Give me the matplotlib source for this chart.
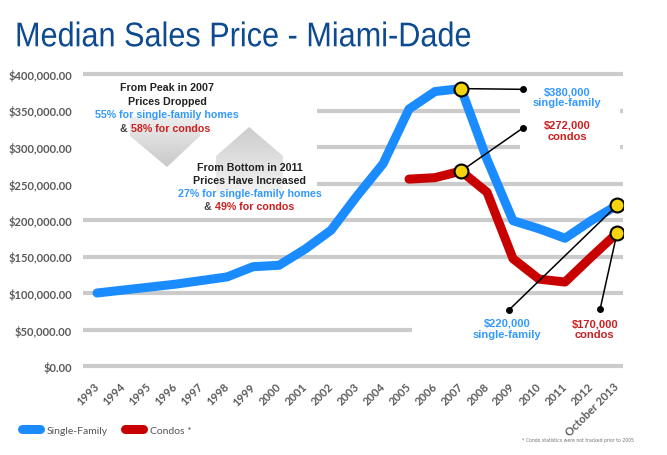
import numpy as np
import matplotlib
matplotlib.use("Agg")
import matplotlib.pyplot as plt
from matplotlib.patches import Polygon, Rectangle
from matplotlib.colors import LinearSegmentedColormap
from matplotlib.patheffects import AbstractPathEffect
from matplotlib.transforms import Affine2D

# values
years = list(range(1993, 2014))
year_labels = [str(y) for y in range(1993, 2013)] + ["October 2013"]
sf_price = [100000, 104000, 108000, 112000, 117000, 122000, 136000, 138000,
            160000, 186000, 233000, 277000, 352000, 376000, 380000, 283000,
            199000, 188000, 175000, 199000, 220000]
condo_years = list(range(2005, 2014))
condo_price = [256000, 258000, 267000, 238000, 147000, 119000, 115000,
               149000, 182000]
y_ticks = [0, 50000, 100000, 150000, 200000, 250000, 300000, 350000, 400000]

BLUE = "#1a8cff"
RED = "#c80000"
TXT_BLUE = "#3399ff"
TXT_RED = "#cc2020"
GREY = "#5a5a5a"
YELLOW = "#f6d30f"


class Squeeze(AbstractPathEffect):
    # narrow the glyphs horizontally (no condensed font installed)
    def __init__(self, sx, x0):
        super().__init__()
        self.sx = sx
        self.x0 = x0

    def draw_path(self, renderer, gc, tpath, affine, rgbFace=None):
        a = affine + Affine2D().translate(-self.x0, 0).scale(self.sx, 1).translate(self.x0, 0)
        renderer.draw_path(gc, tpath, a, rgbFace)


fig = plt.figure(figsize=(6.67, 4.56), dpi=100)
ax = fig.add_axes([83 / 667, 81.7 / 456, 540 / 667, 306.6 / 456])

# title
title = fig.text(15 / 667, 1 - 47.3 / 456, "Median Sales Price - Miami-Dade",
                 fontsize=24.7, color="#0d4a8f", ha="left", va="baseline",
                 family="Liberation Sans")
fig.canvas.draw()
tw = title.get_window_extent().width
title.set_path_effects([Squeeze(455.0 / tw, 15.0)])

# grid + axes styling
ax.set_yticks(y_ticks)
ax.set_yticklabels(["${:,.2f}".format(v) for v in y_ticks],
                   fontsize=8, color=GREY, family="Lato", fontweight="bold")
ax.set_xticks(years)
ax.set_xticklabels(year_labels, rotation=45, ha="right", va="center",
                   rotation_mode="anchor", fontsize=8, color=GREY,
                   family="Lato", fontweight="bold")
ax.tick_params(length=0, axis="y", pad=8)
ax.tick_params(length=0, axis="x", pad=8)
ax.yaxis.grid(True, color="#cbcbcb", lw=3)
ax.set_axisbelow(True)
for s in ax.spines.values():
    s.set_visible(False)

# white panels behind the text blocks hide parts of the gridlines
for (x0, y0, w, h) in [(1992.3, 229000, 9.15, 143000),
                       (2009.27, 277000, 3.85, 96000),
                       (2005.12, 30000, 8.3, 41000)]:
    ax.add_patch(Rectangle((x0, y0), w, h, fc="white", ec="none", zorder=1))


def grey_arrow(pts, bottom_col, top_col):
    poly = Polygon(pts, closed=True, fc="none", ec="none")
    ax.add_patch(poly)
    xs = [p[0] for p in pts]
    ys = [p[1] for p in pts]
    cmap = LinearSegmentedColormap.from_list("g", [bottom_col, top_col])
    grad = np.linspace(0, 1, 64).reshape(-1, 1)
    im = ax.imshow(grad, extent=[min(xs), max(xs), min(ys), max(ys)],
                   cmap=cmap, aspect="auto", origin="lower", zorder=1.2)
    im.set_clip_path(poly)


grey_arrow([(1994.27, 341000), (1996.96, 341000), (1996.96, 315000),
            (1995.69, 272600), (1994.27, 315000)], "#c9c9c9", "#ededed")
grey_arrow([(1997.58, 239700), (1997.58, 287700), (1998.85, 327400),
            (2000.15, 287700), (2000.15, 239700)], "#f2f2f2", "#cbcbcb")

ax.set_xlim(1992.46, 2013.23)
ax.set_ylim(-10000, 410000)

# data lines
sf_line, = ax.plot(years, sf_price, color=BLUE, lw=6.5,
                   solid_capstyle="round", solid_joinstyle="round", zorder=3,
                   label="Single-Family")
condo_line, = ax.plot(condo_years, condo_price, color=RED, lw=6.5,
                      solid_capstyle="round", solid_joinstyle="round",
                      zorder=3, label="Condos *")

# callouts
i07 = years.index(2007)
c07 = condo_years.index(2007)
callouts = [
    (years[i07], sf_price[i07], 2009.38, 379000),
    (condo_years[c07], condo_price[c07], 2009.38, 326000),
    (years[-1], sf_price[-1], 2008.85, 77000),
    (condo_years[-1], condo_price[-1], 2012.35, 78000),
]
for (x, y, tx, ty) in callouts:
    ax.plot([x, tx], [y, ty], color="black", lw=1.1, zorder=4)
    ax.plot(tx, ty, "o", color="black", ms=4, zorder=4)
    ax.plot(x, y, "o", ms=10, mfc=YELLOW, mec="black", mew=1.5, zorder=5)

lab = dict(fontsize=8, fontweight="bold", family="Liberation Sans",
           ha="center", va="center", linespacing=1.15, zorder=6)
ax.text(2011.08, 369000, "$380,000\nsingle-family", color=TXT_BLUE, **lab)
ax.text(2011.08, 323000, "$272,000\ncondos", color=TXT_RED, **lab)
ax.text(2008.77, 52000, "$220,000\nsingle-family", color=TXT_BLUE, **lab)
ax.text(2012.15, 51000, "$170,000\ncondos", color=TXT_RED, **lab)

# explanatory text blocks
blk = dict(fontsize=7.7, fontweight="bold", family="Liberation Sans",
           va="center", zorder=6)
ax.text(1995.69, 382200, "From Peak in 2007", color="#222222", ha="center", **blk)
ax.text(1995.69, 363000, "Prices Dropped", color="#222222", ha="center", **blk)
ax.text(1995.69, 345200, "55% for single-family homes", color=TXT_BLUE,
        ha="center", **blk)
ax.text(1994.31, 326000, "& ", color="#444444", ha="right", **blk)
ax.text(1994.31, 326000, "58% for condos", color=TXT_RED, ha="left", **blk)

ax.text(1998.88, 272600, "From Bottom in 2011", color="#222222", ha="center", **blk)
ax.text(1998.88, 254800, "Prices Have Increased", color="#222222",
        ha="center", **blk)
ax.text(1998.88, 237000, "27% for single-family homes", color=TXT_BLUE,
        ha="center", **blk)
ax.text(1997.54, 219200, "& ", color="#444444", ha="right", **blk)
ax.text(1997.54, 219200, "49% for condos", color=TXT_RED, ha="left", **blk)

# legend
leg = fig.legend(handles=[sf_line, condo_line], loc="center left",
                 bbox_to_anchor=(22 / 667, 1 - 431 / 456), ncol=2,
                 frameon=False, handlelength=1.7, handletextpad=0.7,
                 columnspacing=1.6, borderpad=0, borderaxespad=0,
                 prop={"family": "Lato", "size": 7.5}, labelcolor="#555555")

fig.text(578 / 667, 1 - 441 / 456,
         "* Condo statistics were not tracked prior to 2005",
         fontsize=3.3, color="#777777", ha="center", va="center")

fig.savefig("out.png", dpi=100)
